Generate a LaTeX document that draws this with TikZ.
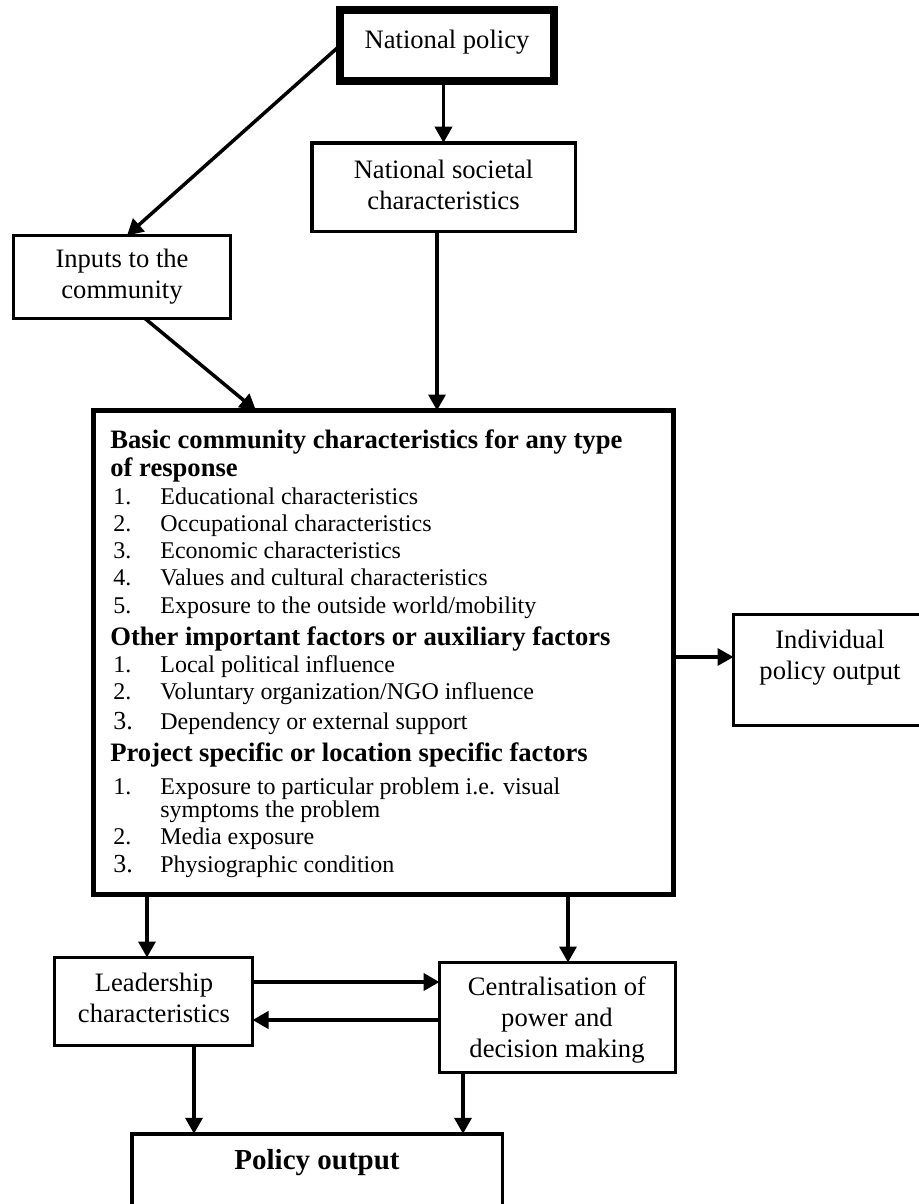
\documentclass[tikz,border=0pt]{standalone}
\usepackage{fontspec}
\setmainfont{Liberation Serif}
\usetikzlibrary{arrows.meta}
\begin{document}
\begin{tikzpicture}[x=0.5pt,y=-0.5pt,
  box/.style={draw, line width=1.5pt, inner sep=0pt, outer sep=0pt},
  boxtext/.style={align=center, inner sep=0pt, font=\fontsize{13.3}{15.5}\selectfont},
  arr/.style={line width=1.75pt, -{Triangle[length=8pt,width=8.5pt]}},
  ln/.style={anchor=base west, inner sep=0pt, font=\fontsize{12}{14}\selectfont},
  hd/.style={anchor=base west, inner sep=0pt, font=\fontsize{13.3}{15}\selectfont\bfseries},
  num/.style={anchor=base west, inner sep=0pt, font=\fontsize{12}{14}\selectfont},
  bignum/.style={anchor=base west, inner sep=0pt, font=\fontsize{13}{14}\selectfont}]
\useasboundingbox (0,0) rectangle (919,1204);
\clip (0,0) rectangle (919,1204);
\fill[white] (0,0) rectangle (919,1204);

% boxes
\node[box, line width=4pt, minimum width=107pt, minimum height=35.5pt] (np) at (447,45.5) {};
\node[boxtext] (nptext) at (447,42) {National policy};

\node[box, line width=1.75pt, minimum width=131.75pt, minimum height=44.25pt] (nsc) at (443.5,187) {};
\node[boxtext] (nsctext) at (443.5,185) {National societal\\characteristics};

\node[box, minimum width=108.5pt, minimum height=41.5pt] (inp) at (122,277) {};
\node[boxtext] (inptext) at (122,277) {Inputs to the\\community};

\node[box, line width=2.5pt, minimum width=290pt, minimum height=242pt] (main) at (383.5,652.5) {};

\node[box, minimum width=95.75pt, minimum height=55.5pt] (ind) at (829.25,670) {};
\node[boxtext] (indtext) at (830,657.5) {Individual\\policy output};

\node[box, minimum width=99pt, minimum height=44pt] (lead) at (153.5,1001.5) {};
\node[boxtext] (leadtext) at (154,998) {Leadership\\characteristics};

\node[box, minimum width=118pt, minimum height=55pt] (cent) at (557.5,1017.5) {};
\node[boxtext] (centtext) at (557,1019.5) {Centralisation of\\power and\\decision making};

\node[box, line width=1.75pt, minimum width=185.25pt, minimum height=48.1pt] (po) at (317,1181.9) {};
\node[inner sep=0pt, font=\fontsize{14.5}{16}\selectfont\bfseries] (potext) at (317,1163) {Policy output};

% main box text
\node[hd] (h1) at (110,448) {Basic community characteristics for any type};
\node[hd] (h1b) at (110,476) {of response};
\node[num] (n11) at (113,504) {1.}; \node[ln] (t11) at (160,504) {Educational characteristics};
\node[num] (n12) at (113,531) {2.}; \node[ln] (t12) at (160,531) {Occupational characteristics};
\node[num] (n13) at (113,558) {3.}; \node[ln] (t13) at (160,558) {Economic characteristics};
\node[num] (n14) at (113,585) {4.}; \node[ln] (t14) at (160,585) {Values and cultural characteristics};
\node[num] (n15) at (113,613) {5.}; \node[ln] (t15) at (160,613) {Exposure to the outside world/mobility};
\node[hd] (h2) at (110,645) {Other important factors or auxiliary factors};
\node[num] (n21) at (113,672) {1.}; \node[ln] (t21) at (160,672) {Local political influence};
\node[num] (n22) at (113,699) {2.}; \node[ln] (t22) at (160,699) {Voluntary organization/NGO influence};
\node[bignum] (n23) at (113,729) {3.}; \node[ln] (t23) at (160,729) {Dependency or external support};
\node[hd] (h3) at (110,761) {Project specific or location specific factors};
\node[num] (n31) at (113,794) {1.}; \node[ln] (t31) at (160,794) {Exposure to particular problem i.e. visual};
\node[ln] (t31b) at (160,817) {symptoms the problem};
\node[num] (n32) at (113,844) {2.}; \node[ln] (t32) at (160,844) {Media exposure};
\node[bignum] (n33) at (113,872) {3.}; \node[ln] (t33) at (160,872) {Physiographic condition};

% connectors
\draw[arr] (np.south -| nsc.north) -- (nsc.north);
\draw[arr] (np.west) -- ([xshift=2.5pt]inp.north);
\draw[arr] ([xshift=11.5pt]inp.south) -- ([xshift=-63.75pt]main.north);
\draw[arr] ([xshift=-3.25pt]nsc.south) -- ([xshift=-3.25pt]nsc.south |- main.north);
\draw[arr] ([yshift=-2.25pt]main.east) -- ([yshift=-2.25pt]main.east -| ind.west);
\draw[arr] ([xshift=-118.25pt]main.south) -- ([xshift=-118.25pt]main.south |- lead.north);
\draw[arr] ([xshift=92.25pt]main.south) -- ([xshift=92.25pt]main.south |- cent.north);
\draw[arr, line width=2pt] ([yshift=9.75pt]lead.east) -- ([yshift=9.75pt]lead.east -| cent.west);
\draw[arr, line width=2pt] ([yshift=-1.25pt]cent.west) -- ([yshift=-1.25pt]cent.west -| lead.east);
\draw[arr] ([xshift=20.25pt]lead.south) -- ([xshift=20.25pt]lead.south |- po.north);
\draw[arr] ([xshift=-47.25pt]cent.south) -- ([xshift=-47.25pt]cent.south |- po.north);
\end{tikzpicture}
\end{document}
